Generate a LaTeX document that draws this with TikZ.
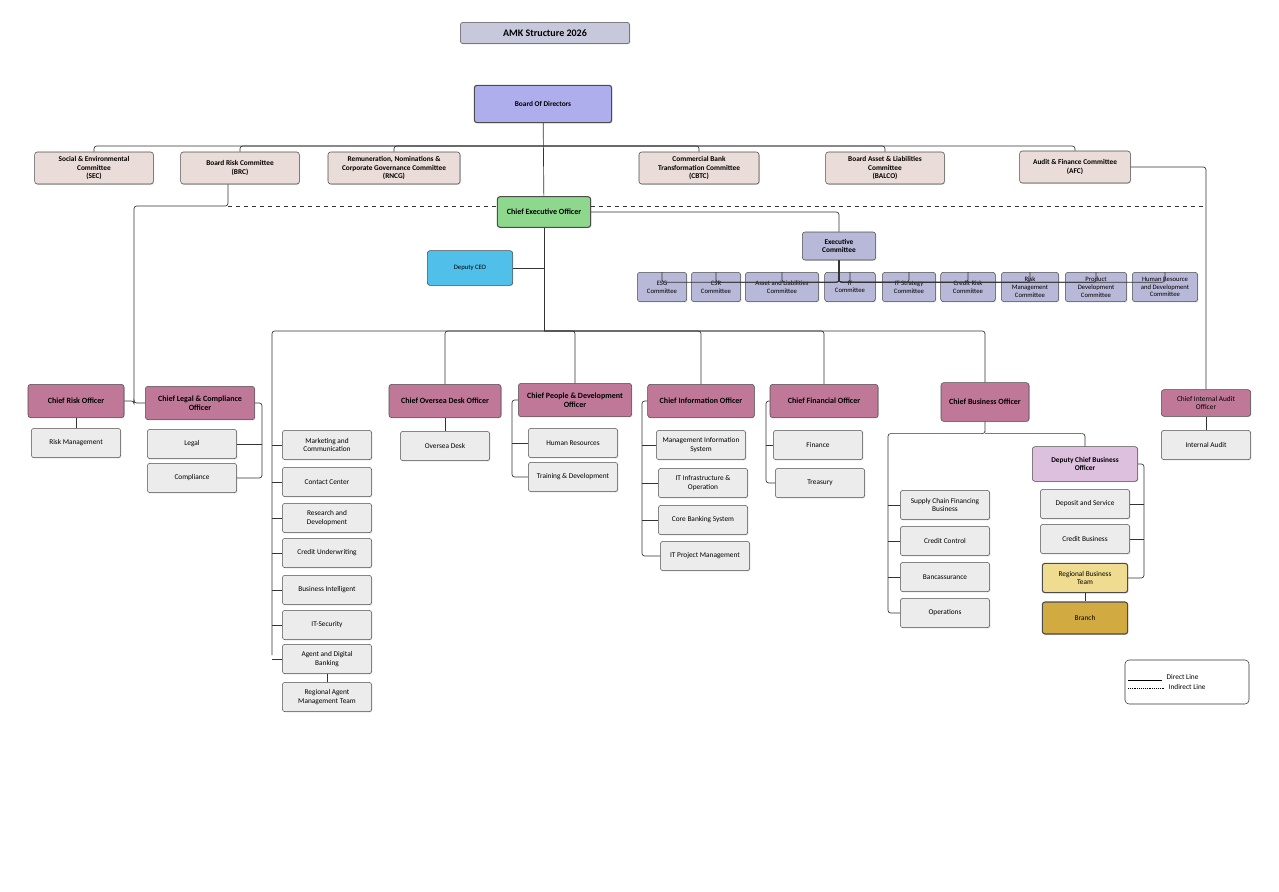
\documentclass[tikz,border=0pt]{standalone}
\usepackage{fontspec}
\setmainfont{Carlito}
\usepackage{tikz}
\usetikzlibrary{shadows}

\definecolor{titlecol}{HTML}{C8C8DC}
\definecolor{boardcol}{HTML}{AEAEEC}
\definecolor{commcol}{HTML}{EADCD8}
\definecolor{ceocol}{HTML}{8ED88E}
\definecolor{depcol}{HTML}{50C0EA}
\definecolor{execcol}{HTML}{B8B8D8}
\definecolor{chiefcol}{HTML}{C07898}
\definecolor{unitcol}{HTML}{ECECEC}
\definecolor{dcbocol}{HTML}{DCC0DE}
\definecolor{rbtcol}{HTML}{F0DC90}
\definecolor{branchcol}{HTML}{D2AA42}

\tikzset{
  box/.style={draw=gray!60!black, rounded corners=2pt, align=center, inner sep=1pt,
    font=\fontsize{5.5}{6.2}\selectfont, drop shadow={shadow xshift=0.6pt, shadow yshift=-0.6pt, opacity=0.3}},
  comm/.style={box, fill=commcol, minimum height=24pt, font=\fontsize{5.5}{6.2}\selectfont\bfseries},
  exec/.style={box, fill=execcol, minimum height=22pt, font=\fontsize{5}{5.8}\selectfont},
  chief/.style={box, fill=chiefcol, minimum height=25pt, font=\fontsize{6}{6.8}\selectfont\bfseries},
  unit/.style={box, fill=unitcol, minimum width=67pt, minimum height=22pt},
  link/.style={draw=gray!40!black, line width=0.5pt, rounded corners=2pt},
  dashlink/.style={link, dashed}
}

\begin{document}
\begin{tikzpicture}[x=0.75pt, y=-0.75pt]
\useasboundingbox (0,0) rectangle (1279,892);

% top
\node[box, fill=titlecol, minimum width=127pt, minimum height=16pt, font=\fontsize{7.5}{8}\selectfont\bfseries] (title) at (545,33) {AMK Structure 2026};
\node[box, fill=boardcol, minimum width=103pt, minimum height=28pt, font=\fontsize{5.5}{6.2}\selectfont\bfseries, line width=0.8pt] (board) at (543,104) {Board Of Directors};

% board committees
\node[comm, minimum width=89pt] (sec) at (94,168) {Social \& Environmental\\Committee\\(SEC)};
\node[comm, minimum width=89pt] (brc) at (240,168) {Board Risk Committee\\(BRC)};
\node[comm, minimum width=99pt] (rncg) at (394,168) {Remuneration, Nominations \&\\Corporate Governance Committee\\(RNCG)};
\node[comm, minimum width=90pt] (cbtc) at (699,168) {Commercial Bank\\Transformation Committee\\(CBTC)};
\node[comm, minimum width=89pt] (balco) at (885,168) {Board Asset \& Liabilities\\Committee\\(BALCO)};
\node[comm, minimum width=83pt] (afc) at (1075,167) {Audit \& Finance Committee\\(AFC)};

% ceo level
\node[box, fill=ceocol, minimum width=70pt, minimum height=23pt, font=\fontsize{6}{6.8}\selectfont\bfseries, line width=0.8pt] (ceo) at (544,212) {Chief Executive Officer};
\node[box, fill=depcol, minimum width=64pt, minimum height=26pt, font=\fontsize{5}{6}\selectfont] (dceo) at (470,268) {Deputy CEO};
\node[box, fill=execcol, minimum width=55pt, minimum height=21pt, font=\fontsize{5.5}{6.2}\selectfont\bfseries] (exco) at (839,246) {Executive\\Committee};

% executive committees
\node[exec, minimum width=37pt] (esg) at (662,287) {ESG\\Committee};
\node[exec, minimum width=37pt] (csr) at (716,287) {CSR\\Committee};
\node[exec, minimum width=55pt] (alco) at (782,287) {Asset and Liabilities\\Committee};
\node[exec, minimum width=38pt] (itc) at (850,287) {IT\\Committee};
\node[exec, minimum width=40pt] (its) at (909,287) {IT Strategy\\Committee};
\node[exec, minimum width=41pt] (crc) at (968,287) {Credit Risk\\Committee};
\node[exec, minimum width=43pt] (rmc) at (1030,287) {Risk\\Management\\Committee};
\node[exec, minimum width=46pt] (pdc) at (1096,287) {Product\\Development\\Committee};
\node[exec, minimum width=49pt] (hrdc) at (1165,287) {Human Resource\\and Development\\Committee};

% chiefs
\node[chief, minimum width=72pt] (cro) at (76,401) {Chief Risk Officer};
\node[chief, minimum width=82pt] (clco) at (200,403) {Chief Legal \& Compliance\\Officer};
\node[chief, minimum width=84pt] (codo) at (445,401) {Chief Oversea Desk Officer};
\node[chief, minimum width=85pt] (cpdo) at (575,400) {Chief People \& Development\\Officer};
\node[chief, minimum width=80pt] (cio) at (701,401) {Chief Information Officer};
\node[chief, minimum width=81pt] (cfo) at (824,401) {Chief Financial Officer};
\node[chief, minimum width=66pt, minimum height=29pt] (cbo) at (985,402) {Chief Business Officer};
\node[chief, minimum width=67pt, minimum height=20pt, font=\fontsize{5.5}{6.2}\selectfont] (ciao) at (1206,403) {Chief Internal Audit\\Officer};

% units
\node[unit] (riskm) at (76,443) {Risk Management};
\node[unit] (legal) at (192,444) {Legal};
\node[unit] (compl) at (192,478) {Compliance};
\node[unit] (mkt) at (327,445) {Marketing and\\Communication};
\node[unit] (cc) at (327,482) {Contact Center};
\node[unit] (rnd) at (327,518) {Research and\\Development};
\node[unit] (cu) at (327,553) {Credit Underwriting};
\node[unit] (bi) at (327,590) {Business Intelligent};
\node[unit] (itsec) at (327,625) {IT-Security};
\node[unit] (adb) at (327,659) {Agent and Digital\\Banking};
\node[unit] (ramt) at (327,697) {Regional Agent\\Management Team};
\node[unit] (od) at (445,446) {Oversea Desk};
\node[unit] (hr) at (573,443) {Human Resources};
\node[unit] (td) at (573,477) {Training \& Development};
\node[unit] (mis) at (701,445) {Management Information\\System};
\node[unit] (itio) at (703,483) {IT Infrastructure \&\\Operation};
\node[unit] (cbs) at (703,520) {Core Banking System};
\node[unit] (itpm) at (705,556) {IT Project Management};
\node[unit] (fin) at (818,445) {Finance};
\node[unit] (tre) at (820,483) {Treasury};
\node[unit] (scf) at (945,505) {Supply Chain Financing\\Business};
\node[unit] (ccon) at (945,541) {Credit Control};
\node[unit] (banc) at (945,577) {Bancassurance};
\node[unit] (ops) at (945,613) {Operations};
\node[box, fill=dcbocol, minimum width=79pt, minimum height=26pt, font=\fontsize{5.5}{6.2}\selectfont\bfseries] (dcbo) at (1085,464) {Deputy Chief Business\\Officer};
\node[unit] (dep) at (1085,504) {Deposit and Service};
\node[unit] (cb) at (1085,539) {Credit Business};
\node[unit, fill=rbtcol, minimum width=64pt, line width=0.8pt] (rbt) at (1085,578) {Regional Business\\Team};
\node[unit, fill=branchcol, minimum width=64pt, minimum height=24pt, line width=0.8pt] (branch) at (1085,618) {Branch};
\node[unit] (ia) at (1206,445) {Internal Audit};

% legend
\node[draw=gray!40!black, rounded corners=3pt, minimum width=93pt, minimum height=33pt] (legend) at (1187,682) {};
\node[font=\fontsize{5.5}{6}\selectfont, anchor=west] (ldirect) at (1162,677) {Direct Line};
\node[font=\fontsize{5.5}{6}\selectfont, anchor=west] (lindirect) at (1164,687) {Indirect Line};
\coordinate (l1a) at (1128,680);
\coordinate (l2a) at (1128,688);
\draw[line width=0.5pt] (l1a) -- (ldirect.west |- l1a);
\draw[densely dotted, line width=0.4pt] (l2a) -- (lindirect.west |- l2a);

% board connections
\coordinate (bbus) at (544,146);
\draw[link] (board) -- (ceo);
\foreach \c in {sec,brc,rncg} \draw[link] (bbus) -| (\c.north);
\foreach \c in {cbtc,balco,afc} \draw[link] (bbus) -| (\c.north);

% brc / afc lines
\coordinate (brcd) at (228,206);
\draw[link] (brc.south -| brcd) -- (brcd) -| (134,401) coordinate (crol);
\draw[link] (cro.east) -- (crol) |- (clco.west);
\draw[dashlink] (brcd) -- (ceo.west |- brcd);
\draw[dashlink] (ceo.east |- brcd) -- (1206,206);
\draw[link] (afc.east) -| (ciao.north);

% ceo connections
\draw[link] (ceo.east) -| (exco.north);
\draw[link] (ceo.south) -- (544,331) coordinate (cbus);
\draw[link] (dceo.east) -- (dceo.east -| cbus);
\foreach \c in {esg,csr,alco,itc,its,crc,rmc,pdc,hrdc} \draw[link] (exco.south) |- ++(0,22) -| (\c.north);
\foreach \c in {codo,cpdo,cio,cfo,cbo} \draw[link] (cbus) -| (\c.north);
\draw[link] (cbus) -| (272,655) coordinate (mkl);
\foreach \c in {mkt,cc,rnd,cu,bi,itsec,adb} \draw[link] (mkl |- \c.west) -- (\c.west);
\draw[link] (adb) -- (ramt);

% unit connections
\draw[link] (cro) -- (riskm);
\draw[link] (codo) -- (od);
\draw[link] (ciao) -- (ia);
\draw[link] (clco.east) -| (262,478) -- (compl.east);
\draw[link] (legal.east) -- (262,444);
\draw[link] (cpdo.west) -| (512,477) -- (td.west);
\draw[link] (hr.west) -- (512,443);
\draw[link] (cio.west) -| (642,556) -- (itpm.west);
\foreach \c in {mis,itio,cbs} \draw[link] (\c.west) -- (642,0 |- \c.west);
\draw[link] (cfo.west) -| (766,483) -- (tre.west);
\draw[link] (fin.west) -- (766,445);
\draw[link] (cbo.south) |- ++(0,12) coordinate (cbob) -| (888,613) -- (ops.west);
\foreach \c in {scf,ccon,banc} \draw[link] (\c.west) -- (888,0 |- \c.west);
\draw[link] (cbob) -| (dcbo.north);
\draw[link] (dcbo.east) -| (1144,578) -- (rbt.east);
\foreach \c in {dep,cb} \draw[link] (\c.east) -- (1144,0 |- \c.east);
\draw[link] (rbt) -- (branch);
\end{tikzpicture}
\end{document}
